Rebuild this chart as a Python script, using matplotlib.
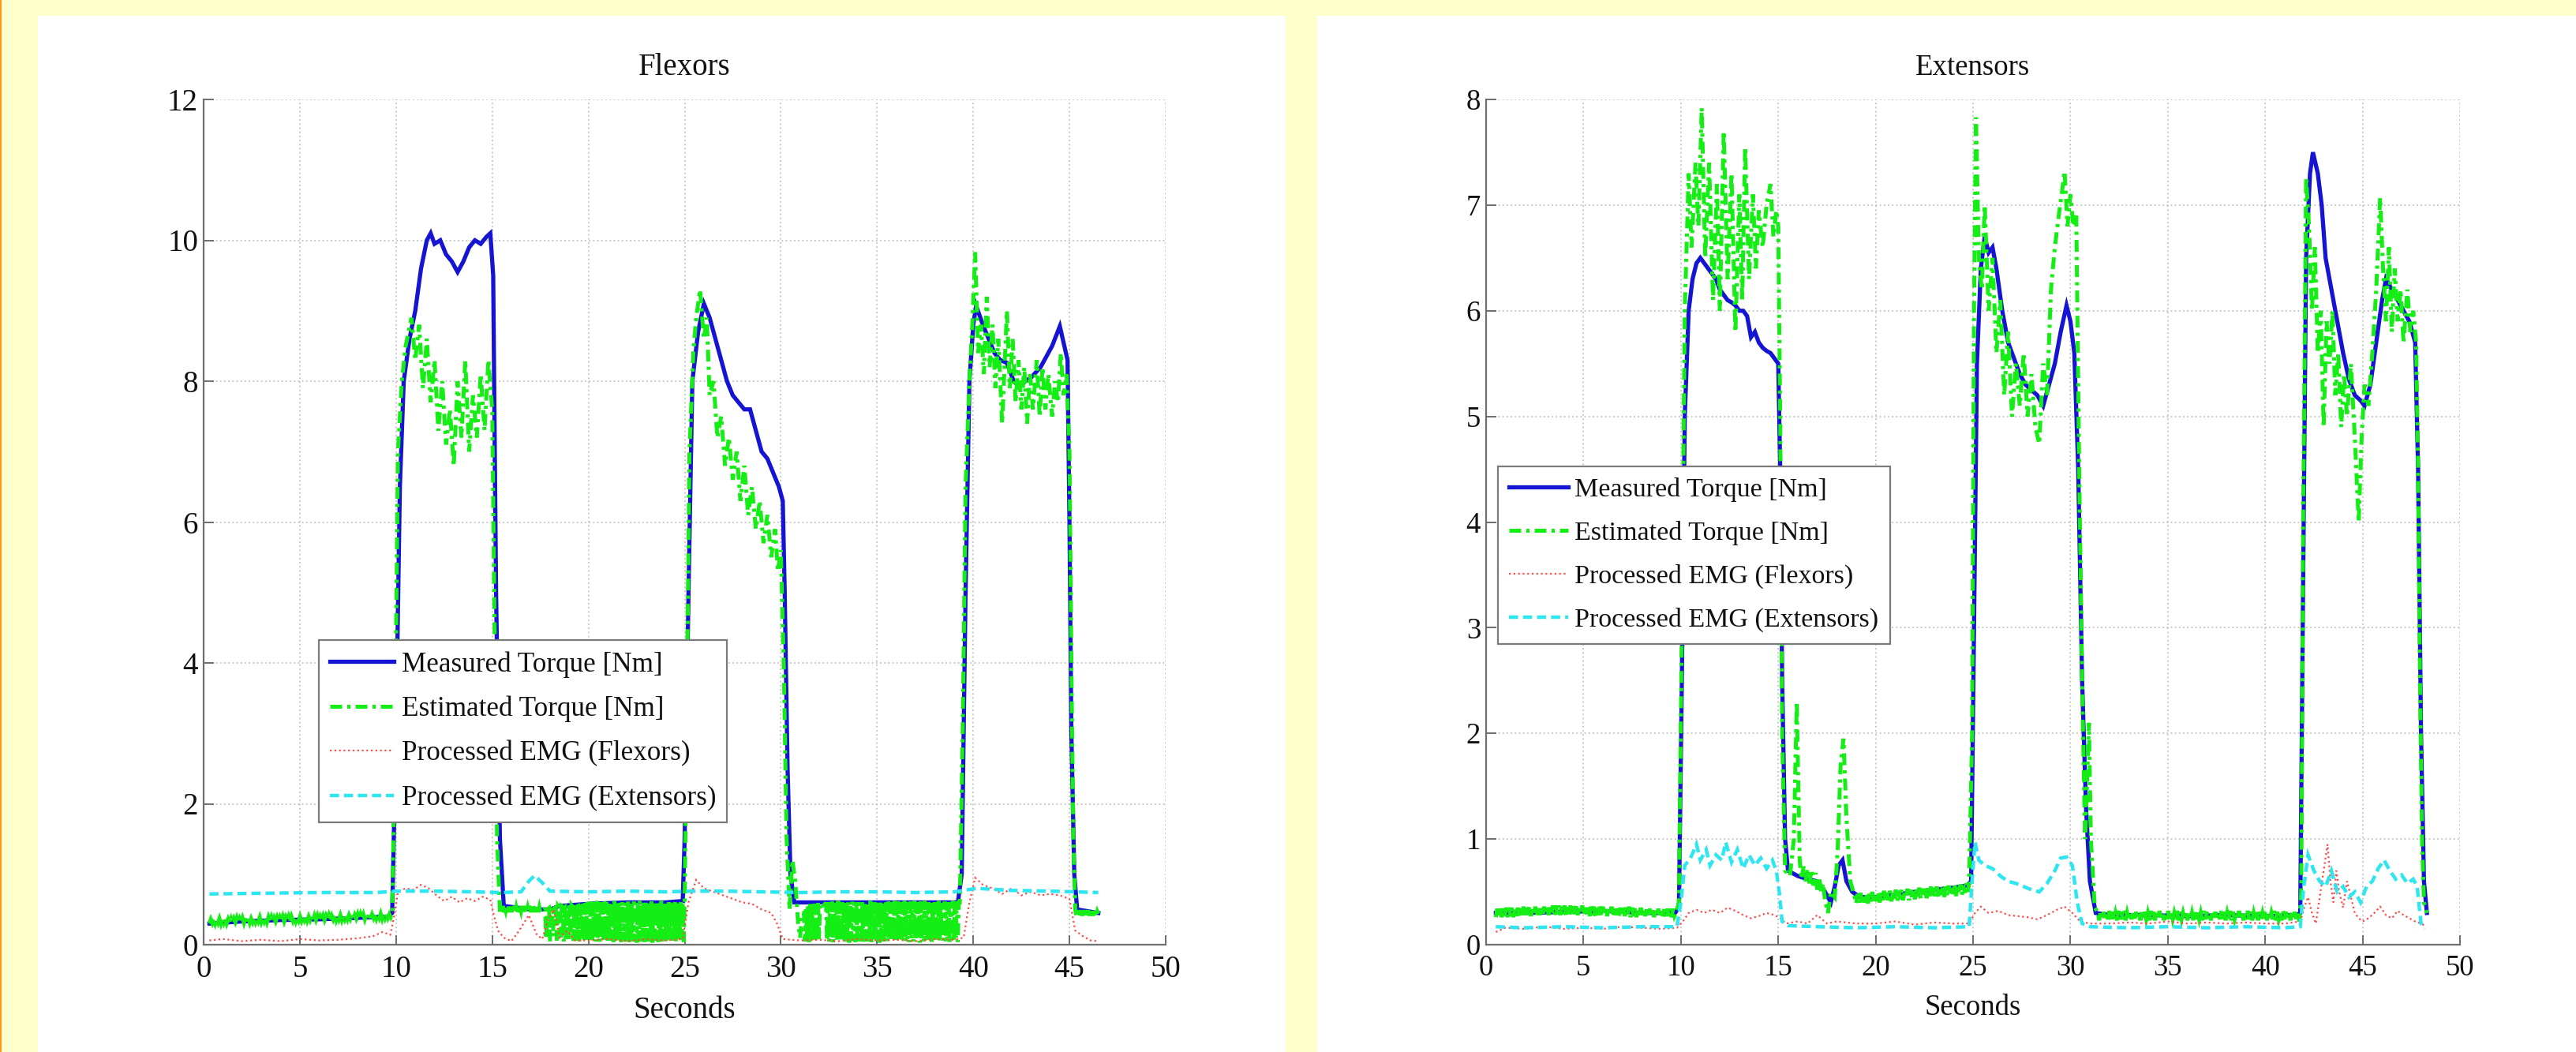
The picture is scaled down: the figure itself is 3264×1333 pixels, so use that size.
import numpy as np
import matplotlib
matplotlib.use("Agg")
import matplotlib.pyplot as plt
from matplotlib.patches import Rectangle

# ---------------------------------------------------------------- data
# Flexors panel -- (seconds, value) pairs
flex_measured = [
    (0.3, 0.30), (2, 0.33), (4, 0.35), (6, 0.36), (8, 0.38), (9.6, 0.40), (9.8, 0.45),
    (10.0, 3.0), (10.2, 6.5), (10.4, 8.0), (10.7, 8.6), (11.0, 9.0), (11.3, 9.6), (11.6, 10.0),
    (11.8, 10.1), (12.0, 9.95), (12.3, 10.0), (12.6, 9.8), (12.9, 9.7), (13.2, 9.55),
    (13.5, 9.7), (13.8, 9.9), (14.1, 10.0), (14.4, 9.95), (14.7, 10.05), (14.9, 10.1),
    (15.05, 9.5), (15.2, 5.0), (15.4, 1.5), (15.6, 0.55), (17, 0.5), (18, 0.5), (18.5, 0.55),
    (20, 0.58), (22, 0.6), (24, 0.6), (24.9, 0.62), (25.0, 1.5), (25.2, 5.0), (25.4, 8.0),
    (25.7, 8.7), (26.0, 9.1), (26.3, 8.9), (26.6, 8.6), (26.9, 8.3), (27.2, 8.0), (27.5, 7.8),
    (27.8, 7.7), (28.1, 7.6), (28.4, 7.6), (28.7, 7.3), (29.0, 7.0), (29.3, 6.9), (29.6, 6.7),
    (29.9, 6.5), (30.1, 6.3), (30.2, 5.0), (30.35, 2.5), (30.5, 1.0), (30.7, 0.6), (31, 0.6),
    (33, 0.6), (35, 0.6), (37, 0.6), (39.2, 0.6), (39.4, 1.0), (39.6, 5.0), (39.8, 8.0),
    (40.0, 8.8), (40.15, 9.07), (40.5, 8.8), (40.8, 8.6), (41.1, 8.4), (41.4, 8.3), (41.75, 8.26),
    (42.1, 8.0), (42.4, 7.92), (42.7, 8.0), (43.0, 8.05), (43.5, 8.2), (43.8, 8.35), (44.1, 8.5),
    (44.5, 8.78), (44.7, 8.54), (44.9, 8.3), (45.0, 6.0), (45.1, 3.0), (45.25, 1.0), (45.4, 0.5),
    (46.5, 0.45),
]

# estimated torque, resting jitter 0.3 s .. 9.8 s
flex_est_rest = [
    0.30, 0.36, 0.31, 0.37, 0.30, 0.36, 0.31, 0.37, 0.30, 0.37, 0.31, 0.37, 0.30, 0.36, 0.31, 0.37,
    0.31, 0.37, 0.32, 0.38, 0.31, 0.37, 0.32, 0.38, 0.31, 0.38, 0.32, 0.38, 0.31, 0.37, 0.32, 0.38,
    0.32, 0.38, 0.33, 0.39, 0.32, 0.38, 0.33, 0.39, 0.32, 0.39, 0.33, 0.39, 0.32, 0.38, 0.33, 0.39,
    0.33, 0.39, 0.34, 0.40, 0.33, 0.39, 0.34, 0.40, 0.33, 0.40, 0.34, 0.40, 0.33, 0.39, 0.34, 0.40,
    0.34, 0.40, 0.35, 0.41, 0.34, 0.40, 0.35, 0.41, 0.34, 0.41, 0.35, 0.41, 0.34, 0.40, 0.35, 0.41,
    0.35, 0.41, 0.36, 0.42, 0.35, 0.41, 0.36, 0.42, 0.35, 0.42, 0.36, 0.42, 0.35, 0.41, 0.36, 0.42,
    0.36, 0.42, 0.37, 0.43, 0.36, 0.42, 0.37, 0.43, 0.36, 0.43, 0.37, 0.43, 0.36, 0.42, 0.37, 0.43,
    0.37, 0.43, 0.38, 0.44, 0.37, 0.43, 0.38, 0.44, 0.37, 0.44, 0.38, 0.44, 0.38, 0.43, 0.39, 0.45,
]
flex_est_contraction1 = [
    (9.95, 3.0), (10.1, 7.0), (10.3, 8.0), (10.5, 8.5), (10.8, 8.9), (11.0, 8.3), (11.2, 8.8),
    (11.4, 7.9), (11.6, 8.6), (11.8, 7.7), (12.0, 8.3), (12.2, 7.3), (12.4, 8.0), (12.6, 7.1),
    (12.8, 7.6), (13.0, 6.8), (13.2, 8.0), (13.4, 7.2), (13.6, 8.3), (13.8, 7.0), (14.0, 7.8),
    (14.2, 7.2), (14.4, 8.1), (14.6, 7.3), (14.8, 8.3), (15.0, 7.6), (15.1, 5.0), (15.25, 1.5),
]
# plateau 15.4 s .. 17.55 s
flex_est_plateau = [
    0.46, 0.54, 0.47, 0.55, 0.46, 0.53, 0.48, 0.55, 0.46, 0.54, 0.47, 0.55, 0.46, 0.54, 0.48,
    0.55, 0.46, 0.53, 0.47, 0.55, 0.46, 0.54, 0.48, 0.55, 0.46, 0.54, 0.47, 0.55, 0.46, 0.53,
    0.48, 0.55, 0.46, 0.54, 0.47, 0.55, 0.46, 0.54, 0.48, 0.55, 0.46, 0.53, 0.47, 0.50,
]
# rapid switching 17.6 s .. 25.0 s
flex_est_burst1 = [
    0.50, 0.49, 0.50, 0.48, 0.08, 0.50, 0.51, 0.52, 0.05, 0.50, 0.49, 0.12, 0.55, 0.52,
    0.50, 0.06, 0.55, 0.53, 0.52, 0.10, 0.55, 0.54, 0.05, 0.56, 0.08, 0.55, 0.55, 0.08,
    0.56, 0.10, 0.56, 0.54, 0.05, 0.58, 0.06, 0.57, 0.10, 0.58, 0.04, 0.57, 0.58, 0.07,
    0.58, 0.05, 0.59, 0.06,
    0.60, 0.04, 0.58, 0.08, 0.61, 0.03, 0.59, 0.10, 0.60, 0.05,
    0.62, 0.07, 0.58, 0.04, 0.60, 0.12, 0.59, 0.05, 0.61, 0.08,
    0.60, 0.03, 0.58, 0.10, 0.61, 0.06, 0.59, 0.04, 0.62, 0.09,
    0.60, 0.05, 0.58, 0.11, 0.60, 0.04, 0.61, 0.07, 0.59, 0.05,
    0.60, 0.10, 0.62, 0.04, 0.58, 0.08, 0.60, 0.05, 0.61, 0.06,
    0.59, 0.03, 0.60, 0.09, 0.62, 0.05, 0.58, 0.12, 0.60, 0.04,
    0.61, 0.07, 0.59, 0.05, 0.60, 0.10, 0.62, 0.03, 0.58, 0.08,
    0.61, 0.06, 0.60, 0.04, 0.59, 0.11, 0.62, 0.05, 0.60, 0.07,
    0.58, 0.04, 0.61, 0.09, 0.60, 0.05, 0.62, 0.06, 0.59, 0.10,
    0.60, 0.03, 0.61, 0.08, 0.58, 0.05, 0.62, 0.07, 0.60, 0.04,
    0.60,
]
flex_est_contraction2 = [
    (25.1, 3.0), (25.25, 7.0), (25.45, 8.4), (25.6, 8.9), (25.8, 9.3), (26.0, 8.6), (26.15, 8.9),
    (26.3, 7.8), (26.5, 8.0), (26.7, 7.2), (26.9, 7.5), (27.1, 6.8), (27.3, 7.2), (27.5, 6.6),
    (27.7, 7.0), (27.9, 6.3), (28.1, 6.8), (28.3, 6.1), (28.5, 6.5), (28.7, 5.9), (28.9, 6.3),
    (29.1, 5.7), (29.3, 6.1), (29.5, 5.5), (29.7, 5.9), (29.85, 5.3), (30.0, 5.6), (30.15, 4.0),
    (30.3, 1.5), (30.45, 0.5), (30.6, 1.2), (30.75, 0.9), (30.9, 0.3), (31.0, 0.1), (31.1, 0.45),
]
# rapid switching 31.2 s .. 39.3 s
flex_est_burst2 = [
    0.45, 0.05, 0.50, 0.10, 0.56, 0.04, 0.58, 0.08, 0.57, 0.06, 0.58, 0.10, 0.57, 0.05,
    0.59, 0.08, 0.58, 0.57, 0.58, 0.56, 0.57, 0.58, 0.57, 0.06, 0.60,
    0.04, 0.58, 0.08, 0.61, 0.03, 0.59, 0.10, 0.60, 0.05, 0.62,
    0.07, 0.58, 0.04, 0.60, 0.12, 0.59, 0.05, 0.61, 0.08, 0.60,
    0.03, 0.58, 0.10, 0.61, 0.06, 0.59, 0.04, 0.62, 0.09, 0.60,
    0.05, 0.58, 0.11, 0.60, 0.04, 0.61, 0.07, 0.59, 0.05, 0.60,
    0.10, 0.62, 0.04, 0.58, 0.08, 0.60, 0.05, 0.61, 0.06, 0.59,
    0.03, 0.60, 0.09, 0.62, 0.05, 0.58, 0.12, 0.60, 0.04, 0.61,
    0.07, 0.59, 0.05, 0.60, 0.10, 0.62, 0.03, 0.58, 0.08, 0.61,
    0.06, 0.60, 0.04, 0.59, 0.11, 0.62, 0.05, 0.60, 0.07, 0.58,
    0.04, 0.61, 0.09, 0.60, 0.05, 0.62, 0.06, 0.59, 0.10, 0.60,
    0.03, 0.61, 0.08, 0.58, 0.05, 0.62, 0.07, 0.60, 0.04, 0.60,
    0.06, 0.59, 0.03, 0.61, 0.10, 0.60, 0.05, 0.58, 0.08, 0.62,
    0.04, 0.60, 0.11, 0.59, 0.06, 0.61, 0.05, 0.60, 0.09, 0.58,
    0.03, 0.60, 0.07, 0.62, 0.05, 0.59, 0.10, 0.61, 0.04, 0.60,
    0.60,
]
flex_est_contraction3 = [
    (39.45, 3.0), (39.6, 6.5), (39.8, 8.0), (39.95, 8.8), (40.1, 9.83), (40.25, 8.4), (40.4, 8.8),
    (40.55, 8.1), (40.7, 9.2), (40.85, 8.2), (41.0, 8.8), (41.15, 7.9), (41.3, 8.6), (41.5, 7.4),
    (41.75, 9.0), (41.9, 7.9), (42.05, 8.6), (42.2, 7.7), (42.35, 8.3), (42.5, 7.6), (42.65, 8.2),
    (42.8, 7.4), (42.95, 8.1), (43.1, 7.6), (43.3, 8.3), (43.45, 7.5), (43.6, 8.2), (43.75, 7.6),
    (43.9, 8.1), (44.1, 7.5), (44.25, 8.0), (44.4, 7.7), (44.55, 8.4), (44.7, 7.8), (44.85, 8.1),
    (45.0, 7.0), (45.1, 4.0), (45.2, 1.5),
]
# tail 45.3 s .. 46.5 s
flex_est_tail = [
    0.50, 0.42, 0.49, 0.41, 0.48, 0.42, 0.49, 0.41, 0.48, 0.42, 0.49, 0.41, 0.48,
    0.42, 0.49, 0.41, 0.48, 0.42, 0.49, 0.41, 0.48, 0.42, 0.49, 0.41, 0.47, 0.44,
]

flex_emg_flexors = [
    (0.3, 0.06), (1, 0.08), (2, 0.05), (3, 0.07), (4, 0.05), (5, 0.08), (6, 0.06), (7, 0.07),
    (8, 0.09), (8.8, 0.12), (9.3, 0.18), (9.7, 0.14), (9.9, 0.4), (10.1, 0.75), (10.5, 0.8),
    (10.9, 0.78), (11.3, 0.85), (11.7, 0.8), (12.1, 0.7), (12.5, 0.62), (12.9, 0.68),
    (13.3, 0.6), (13.7, 0.66), (14.1, 0.62), (14.5, 0.68), (14.9, 0.64), (15.1, 0.4),
    (15.3, 0.2), (15.6, 0.1), (16.0, 0.05), (16.4, 0.2), (16.9, 0.42), (17.3, 0.15),
    (17.6, 0.08), (17.9, 0.35), (18.2, 0.5), (18.5, 0.1), (18.9, 0.2), (19.3, 0.06),
    (20, 0.06), (21, 0.08), (22, 0.05), (23, 0.08), (24, 0.06), (24.9, 0.08), (25.2, 0.6),
    (25.6, 0.92), (26.0, 0.8), (26.5, 0.75), (27.0, 0.7), (27.5, 0.65), (28.0, 0.6),
    (28.5, 0.58), (29.0, 0.5), (29.5, 0.45), (29.8, 0.3), (30.1, 0.08), (31, 0.06),
    (32, 0.07), (33, 0.05), (34, 0.08), (35, 0.06), (36, 0.07), (37, 0.05), (38, 0.08),
    (39, 0.07), (39.5, 0.1), (39.8, 0.6), (40.1, 0.95), (40.5, 0.85), (41.0, 0.8),
    (41.5, 0.72), (42.0, 0.8), (42.5, 0.7), (43.0, 0.75), (43.5, 0.7), (44.0, 0.72),
    (44.5, 0.7), (45.0, 0.65), (45.3, 0.2), (45.7, 0.12), (46.1, 0.06), (46.5, 0.05),
]

flex_emg_extensors = [
    (0.3, 0.72), (3, 0.73), (6, 0.74), (9, 0.74), (10, 0.76), (12, 0.76), (14, 0.75),
    (15.5, 0.74), (16.5, 0.75), (16.9, 0.9), (17.2, 0.98), (17.6, 0.88), (18.0, 0.76),
    (20, 0.75), (22, 0.76), (24, 0.75), (25.5, 0.76), (27, 0.76), (29, 0.75), (31, 0.74),
    (33, 0.75), (35, 0.75), (37, 0.74), (39, 0.75), (40.2, 0.8), (42, 0.77), (44, 0.76),
    (46.5, 0.74),
]

# Extensors panel
ext_measured = [
    (0.5, 0.30), (2, 0.30), (4, 0.31), (6, 0.32), (8, 0.30), (9.7, 0.30), (9.9, 0.35),
    (10.05, 2.5), (10.2, 5.0), (10.4, 6.0), (10.6, 6.3), (10.8, 6.45), (11.0, 6.5), (11.2, 6.45),
    (11.4, 6.4), (11.6, 6.35), (11.8, 6.3), (12.0, 6.2), (12.2, 6.15), (12.4, 6.1), (12.6, 6.08),
    (12.8, 6.05), (13.0, 6.0), (13.2, 6.0), (13.4, 5.95), (13.6, 5.75), (13.8, 5.8), (14.0, 5.7),
    (14.2, 5.65), (14.4, 5.62), (14.6, 5.6), (14.8, 5.55), (15.0, 5.5), (15.1, 4.5), (15.2, 2.5),
    (15.35, 1.0), (15.5, 0.7), (16.0, 0.65), (16.5, 0.62), (17.0, 0.6), (17.4, 0.5), (17.7, 0.4),
    (17.9, 0.55), (18.1, 0.75), (18.3, 0.8), (18.5, 0.6), (18.8, 0.5), (19.2, 0.45), (20, 0.45),
    (21, 0.47), (22, 0.5), (23, 0.52), (24, 0.54), (24.7, 0.56), (24.9, 0.6), (25.05, 3.0),
    (25.2, 5.5), (25.4, 6.4), (25.6, 6.7), (25.8, 6.55), (26.0, 6.6), (26.2, 6.4), (26.5, 6.0),
    (26.8, 5.7), (27.1, 5.55), (27.4, 5.4), (27.7, 5.3), (28.0, 5.25), (28.3, 5.2), (28.6, 5.1),
    (28.9, 5.3), (29.2, 5.5), (29.5, 5.8), (29.8, 6.05), (30.0, 5.9), (30.2, 5.6), (30.4, 4.5),
    (30.6, 2.5), (30.8, 1.3), (31.0, 0.6), (31.3, 0.3), (32, 0.28), (34, 0.28), (36, 0.27),
    (38, 0.28), (40, 0.27), (41.6, 0.28), (41.8, 0.3), (41.95, 3.5), (42.1, 6.5), (42.3, 7.3),
    (42.45, 7.5), (42.7, 7.3), (42.9, 7.0), (43.1, 6.5), (43.4, 6.2), (43.7, 5.9), (44.0, 5.6),
    (44.3, 5.35), (44.6, 5.2), (44.9, 5.15), (45.1, 5.1), (45.4, 5.3), (45.7, 5.7), (46.0, 6.1),
    (46.2, 6.3), (46.5, 6.2), (46.8, 6.1), (47.1, 6.0), (47.4, 5.9), (47.7, 5.7), (47.85, 4.5),
    (48.0, 2.0), (48.15, 0.6), (48.3, 0.3),
]

# estimated torque, resting jitter 0.5 s .. 9.75 s
ext_est_rest1 = [
    0.26, 0.34, 0.27, 0.35, 0.26, 0.34, 0.27, 0.35, 0.26, 0.35, 0.27, 0.35, 0.26, 0.34, 0.27, 0.35,
    0.27, 0.35, 0.28, 0.36, 0.27, 0.35, 0.28, 0.36, 0.27, 0.36, 0.28, 0.36, 0.27, 0.35, 0.28, 0.36,
    0.28, 0.36, 0.29, 0.37, 0.28, 0.36, 0.29, 0.37, 0.28, 0.37, 0.29, 0.37, 0.28, 0.36, 0.29, 0.37,
    0.28, 0.36, 0.29, 0.37, 0.28, 0.36, 0.29, 0.37, 0.28, 0.37, 0.29, 0.37, 0.28, 0.36, 0.29, 0.37,
    0.27, 0.36, 0.28, 0.36, 0.27, 0.35, 0.28, 0.36, 0.27, 0.36, 0.28, 0.36, 0.27, 0.35, 0.28, 0.36,
    0.27, 0.35, 0.28, 0.36, 0.27, 0.35, 0.28, 0.36, 0.27, 0.35, 0.28, 0.36, 0.26, 0.35, 0.27, 0.35,
    0.26, 0.34, 0.27, 0.35, 0.26, 0.34, 0.27, 0.35, 0.26, 0.34, 0.27, 0.35, 0.26, 0.34, 0.27, 0.34,
    0.26, 0.34, 0.27, 0.34, 0.26, 0.34, 0.27, 0.34, 0.26, 0.34, 0.27, 0.30,
]
ext_est_contraction1 = [
    (9.9, 0.4), (10.05, 3.0), (10.2, 6.0), (10.4, 7.3), (10.55, 6.6), (10.75, 7.4), (10.9, 6.8),
    (11.07, 7.92), (11.25, 6.5), (11.45, 7.4), (11.65, 6.1), (11.85, 7.2), (12.0, 6.0),
    (12.2, 7.7), (12.4, 6.3), (12.6, 7.3), (12.8, 5.8), (13.0, 7.1), (13.15, 6.1), (13.3, 7.55),
    (13.5, 6.3), (13.7, 7.1), (13.85, 6.4), (14.0, 6.95), (14.2, 6.6), (14.4, 7.0), (14.6, 7.2),
    (14.75, 6.7), (14.9, 6.95), (15.0, 6.8), (15.1, 5.0), (15.2, 2.0), (15.35, 0.7), (15.6, 0.65),
    (15.8, 1.0), (15.95, 2.3), (16.1, 0.8), (16.2, 0.62), (16.3, 0.74), (16.4, 0.6), (16.5, 0.72),
    (16.6, 0.58), (16.7, 0.7), (16.8, 0.56), (16.9, 0.68), (17.0, 0.52), (17.1, 0.64),
    (17.2, 0.5), (17.3, 0.58), (17.4, 0.42), (17.55, 0.3), (17.7, 0.5), (17.9, 0.45),
    (18.05, 0.9), (18.2, 1.7), (18.35, 1.95), (18.5, 1.2), (18.7, 0.6), (18.85, 0.5),
]
# slow drift 19.0 s .. 24.8 s
ext_est_drift = [
    0.39, 0.48, 0.40, 0.49, 0.38, 0.47, 0.40, 0.49, 0.39, 0.48, 0.41, 0.50, 0.39, 0.48,
    0.41, 0.50, 0.40, 0.49, 0.42, 0.51, 0.40, 0.50, 0.42, 0.51, 0.41, 0.50, 0.43, 0.52,
    0.41, 0.51, 0.43, 0.52, 0.42, 0.51, 0.44, 0.53, 0.42, 0.52, 0.44, 0.53, 0.43, 0.52,
    0.45, 0.54, 0.43, 0.53, 0.45, 0.54, 0.44, 0.53, 0.46, 0.55, 0.44, 0.54, 0.46, 0.55,
    0.45, 0.54, 0.47, 0.56, 0.45, 0.55, 0.47, 0.56, 0.46, 0.55, 0.48, 0.57, 0.46, 0.56,
    0.48, 0.57, 0.47, 0.56, 0.49, 0.58, 0.50, 0.58,
]
ext_est_contraction2 = [
    (24.95, 2.0), (25.05, 6.0), (25.15, 7.83), (25.3, 6.5), (25.45, 6.2), (25.6, 7.0), (25.8, 6.0),
    (26.0, 6.5), (26.2, 5.6), (26.4, 6.1), (26.6, 5.2), (26.8, 5.8), (27.0, 5.0), (27.2, 5.5),
    (27.4, 5.1), (27.6, 5.6), (27.8, 5.0), (28.0, 5.4), (28.2, 4.9), (28.4, 4.74), (28.6, 5.5),
    (28.8, 5.2), (29.0, 6.2), (29.2, 6.6), (29.4, 6.9), (29.55, 7.1), (29.7, 7.32), (29.85, 6.8),
    (30.0, 7.1), (30.15, 6.8), (30.3, 6.9), (30.45, 4.5), (30.6, 2.5), (30.75, 1.0), (30.85, 1.5),
    (30.95, 2.1), (31.05, 1.0), (31.25, 0.35),
]
# resting jitter 31.4 s .. 41.75 s
ext_est_rest2 = [
    0.31, 0.23, 0.32, 0.24, 0.31, 0.23, 0.30, 0.24, 0.32, 0.23, 0.31, 0.24, 0.30, 0.23, 0.32, 0.24,
    0.31, 0.24, 0.32, 0.23, 0.30, 0.24, 0.31, 0.24, 0.32, 0.23, 0.31, 0.24, 0.30, 0.23, 0.32, 0.24,
    0.31, 0.24, 0.30, 0.23, 0.32, 0.24, 0.31, 0.23, 0.30, 0.24, 0.32, 0.24, 0.31, 0.23, 0.30, 0.24,
    0.32, 0.23, 0.31, 0.24, 0.30, 0.24, 0.32, 0.23, 0.31, 0.24, 0.30, 0.24, 0.32, 0.23, 0.31, 0.24,
    0.30, 0.23, 0.32, 0.24, 0.31, 0.24, 0.30, 0.23, 0.32, 0.24, 0.31, 0.24, 0.30, 0.23, 0.32, 0.24,
    0.31, 0.23, 0.30, 0.24, 0.32, 0.24, 0.31, 0.23, 0.30, 0.24, 0.32, 0.23, 0.31, 0.24, 0.30, 0.24,
    0.32, 0.24, 0.31, 0.23, 0.30, 0.24, 0.32, 0.24, 0.31, 0.23, 0.30, 0.24, 0.32, 0.23, 0.31, 0.24,
    0.30, 0.24, 0.32, 0.23, 0.31, 0.24, 0.30, 0.24, 0.32, 0.23, 0.31, 0.24, 0.30, 0.23, 0.32, 0.24,
    0.31, 0.24, 0.30, 0.23, 0.32, 0.24, 0.31, 0.23, 0.30, 0.22,
]
ext_est_contraction3 = [
    (41.85, 0.5), (41.95, 4.0), (42.1, 7.26), (42.25, 6.8), (42.4, 6.0), (42.55, 6.6), (42.7, 5.6),
    (42.85, 6.0), (43.0, 4.9), (43.15, 5.9), (43.3, 5.5), (43.45, 6.0), (43.6, 5.2), (43.75, 5.6),
    (43.9, 4.9), (44.05, 5.4), (44.2, 5.0), (44.4, 5.5), (44.6, 4.8), (44.8, 4.0), (44.95, 4.8),
    (45.1, 5.3), (45.3, 5.1), (45.5, 5.6), (45.7, 6.2), (45.9, 7.07), (46.05, 6.4), (46.2, 5.9),
    (46.35, 6.6), (46.5, 5.8), (46.65, 6.4), (46.8, 5.9), (46.95, 6.2), (47.1, 5.7), (47.3, 6.2),
    (47.45, 5.8), (47.6, 6.0), (47.75, 5.7), (47.85, 4.5), (47.95, 2.5), (48.05, 1.0),
    (48.15, 0.4), (48.3, 0.3),
]

ext_emg_flexors = [
    (0.5, 0.12), (1, 0.16), (2, 0.15), (3, 0.17), (4, 0.15), (5, 0.16), (6, 0.15), (7, 0.17),
    (8, 0.16), (9, 0.15), (9.8, 0.16), (10.1, 0.22), (10.4, 0.30), (10.8, 0.33), (11.2, 0.30),
    (11.6, 0.33), (12.0, 0.30), (12.4, 0.35), (12.8, 0.32), (13.2, 0.28), (13.6, 0.25),
    (14.0, 0.27), (14.4, 0.30), (14.8, 0.28), (15.1, 0.25), (15.4, 0.20), (16, 0.22),
    (16.5, 0.20), (17, 0.28), (17.5, 0.20), (18, 0.22), (19, 0.20), (20, 0.20), (21, 0.22),
    (22, 0.19), (23, 0.21), (24, 0.20), (24.8, 0.20), (25.1, 0.30), (25.4, 0.36), (25.8, 0.30),
    (26.3, 0.32), (26.8, 0.28), (27.3, 0.27), (27.8, 0.26), (28.3, 0.24), (28.8, 0.28),
    (29.3, 0.33), (29.7, 0.36), (30.1, 0.30), (30.5, 0.22), (31, 0.20), (32, 0.20), (33, 0.21),
    (34, 0.20), (35, 0.22), (36, 0.20), (37, 0.21), (38, 0.20), (39, 0.21), (40, 0.20),
    (41, 0.20), (41.8, 0.22), (42.0, 0.35), (42.2, 0.45), (42.4, 0.30), (42.6, 0.20),
    (42.8, 0.45), (43.0, 0.70), (43.2, 0.95), (43.35, 0.60), (43.5, 0.40), (43.65, 0.70),
    (43.8, 0.50), (44.0, 0.35), (44.2, 0.60), (44.4, 0.45), (44.6, 0.30), (44.8, 0.25),
    (45.0, 0.22), (45.3, 0.25), (45.6, 0.30), (45.9, 0.36), (46.2, 0.28), (46.5, 0.25),
    (46.8, 0.32), (47.1, 0.28), (47.4, 0.25), (47.7, 0.22), (48.0, 0.20), (48.2, 0.18),
]

ext_emg_extensors = [
    (0.5, 0.17), (2, 0.16), (4, 0.17), (6, 0.16), (8, 0.17), (9.8, 0.17), (10.0, 0.40),
    (10.2, 0.75), (10.5, 0.82), (10.8, 0.95), (11.0, 0.80), (11.3, 0.90), (11.5, 0.75),
    (11.8, 0.85), (12.1, 0.80), (12.3, 0.97), (12.6, 0.78), (12.9, 0.90), (13.2, 0.72),
    (13.5, 0.85), (13.8, 0.75), (14.1, 0.82), (14.4, 0.72), (14.7, 0.80), (14.9, 0.70),
    (15.05, 0.50), (15.2, 0.22), (15.5, 0.18), (17, 0.17), (19, 0.16), (21, 0.17), (23, 0.16),
    (24.8, 0.17), (24.95, 0.60), (25.1, 0.97), (25.3, 0.80), (25.6, 0.75), (26.0, 0.72),
    (26.4, 0.65), (26.8, 0.60), (27.2, 0.58), (27.6, 0.55), (28.0, 0.52), (28.4, 0.50),
    (28.8, 0.58), (29.2, 0.70), (29.5, 0.82), (29.8, 0.83), (30.1, 0.75), (30.35, 0.40),
    (30.6, 0.20), (31, 0.17), (33, 0.16), (35, 0.17), (37, 0.16), (39, 0.17), (41, 0.16),
    (41.8, 0.17), (41.95, 0.50), (42.2, 0.85), (42.5, 0.70), (42.8, 0.60), (43.1, 0.55),
    (43.4, 0.70), (43.7, 0.50), (44.0, 0.55), (44.3, 0.45), (44.6, 0.50), (44.9, 0.40),
    (45.2, 0.55), (45.5, 0.60), (45.8, 0.72), (46.1, 0.80), (46.4, 0.70), (46.7, 0.62),
    (47.0, 0.66), (47.3, 0.58), (47.6, 0.62), (47.8, 0.55), (48.0, 0.20), (48.2, 0.15),
]

legend_labels = ["Measured Torque [Nm]", "Estimated Torque [Nm]",
                 "Processed EMG (Flexors)", "Processed EMG (Extensors)"]
x_ticks = [0, 5, 10, 15, 20, 25, 30, 35, 40, 45, 50]
flex_y_ticks = [0, 2, 4, 6, 8, 10, 12]
ext_y_ticks = [0, 1, 2, 3, 4, 5, 6, 7, 8]


def unzip(pairs):
    a = np.array(pairs, dtype=float)
    return a[:, 0], a[:, 1]


def even(values, t0, t1):
    """Samples taken at an even rate between t0 and t1."""
    return np.linspace(t0, t1, len(values)), np.asarray(values, dtype=float)


def join(*pieces):
    return (np.concatenate([p[0] for p in pieces]),
            np.concatenate([p[1] for p in pieces]))


flex_estimated = join(even(flex_est_rest, 0.3, 9.8), unzip(flex_est_contraction1),
                      even(flex_est_plateau, 15.4, 17.55), even(flex_est_burst1, 17.6, 25.0),
                      unzip(flex_est_contraction2), even(flex_est_burst2, 31.2, 39.3),
                      unzip(flex_est_contraction3), even(flex_est_tail, 45.3, 46.5))
ext_estimated = join(even(ext_est_rest1, 0.5, 9.75), unzip(ext_est_contraction1),
                     even(ext_est_drift, 19.0, 24.8), unzip(ext_est_contraction2),
                     even(ext_est_rest2, 31.4, 41.75), unzip(ext_est_contraction3))

# ---------------------------------------------------------------- style
W, H = 3264, 1333
DPI = 100
SERIF = ["Liberation Serif", "DejaVu Serif"]
plt.rcParams["font.family"] = SERIF

C_BLUE = "#1414d2"
C_GREEN = "#14ee14"
C_RED = "#ff4a4a"
C_CYAN = "#2ee6f0"

styles = [
    dict(color=C_BLUE, lw=3.8, ls="-"),
    dict(color=C_GREEN, lw=3.6, ls=(0, (3.0, 1.3, 0.8, 1.3))),
    dict(color=C_RED, lw=1.6, ls=(0, (1.0, 1.6))),
    dict(color=C_CYAN, lw=3.2, ls=(0, (2.6, 1.4))),
]

fig = plt.figure(figsize=(W / DPI, H / DPI), dpi=DPI, facecolor="#ffffcc")


def px_rect(x0, y0, x1, y1, color):
    """Rectangle given in pixel coordinates measured from the top-left corner."""
    fig.add_artist(Rectangle((x0 / W, 1 - y1 / H), (x1 - x0) / W, (y1 - y0) / H,
                             transform=fig.transFigure, facecolor=color,
                             edgecolor="none", zorder=0))


px_rect(48, 20, 1629, H, "white")
px_rect(1669, 20, W, H, "white")
px_rect(0, 0, 2, H, "#ff9a1a")


def make_axes(x0, x1, y0, y1):
    return fig.add_axes([x0 / W, 1 - y1 / H, (x1 - x0) / W, (y1 - y0) / H])


def decorate(ax, title, ymax, yticks, fs):
    ax.set_xlim(0, 50)
    ax.set_ylim(0, ymax)
    ax.set_xticks(x_ticks)
    ax.set_yticks(yticks)
    ax.set_xticklabels([str(v) for v in x_ticks])
    ax.set_yticklabels([str(v) for v in yticks])
    for s in ("top", "right"):
        ax.spines[s].set_visible(False)
    for s in ("left", "bottom"):
        ax.spines[s].set_color("#6e6e6e")
        ax.spines[s].set_linewidth(1.6)
    ax.tick_params(direction="in", length=9, width=1.4, color="#6e6e6e",
                   labelsize=fs, labelcolor="#111111")
    ax.tick_params(axis="x", pad=9)
    ax.tick_params(axis="y", pad=5)
    ax.grid(True, ls=(0, (1.2, 2.2)), lw=1.1, color="#b8b8b8")
    ax.set_axisbelow(True)
    ax.set_title(title, fontsize=fs, color="#111111", pad=22)
    ax.set_xlabel("Seconds", fontsize=fs, color="#111111", labelpad=11)


def draw(ax, series, anchor, fs, spacing, bpad, hlen, hpad):
    handles = []
    for (t, v), st in zip(series, styles):
        (h,) = ax.plot(t, v, solid_joinstyle="miter", dash_joinstyle="miter", **st)
        handles.append(h)
    leg = ax.legend(handles, legend_labels, loc="upper left",
                    bbox_to_anchor=anchor, borderaxespad=0, fontsize=fs,
                    frameon=True, fancybox=False, framealpha=1, edgecolor="#7a7a7a",
                    handlelength=hlen, handletextpad=hpad, labelspacing=spacing,
                    borderpad=bpad)
    leg.get_frame().set_linewidth(1.6)
    for txt in leg.get_texts():
        txt.set_color("#111111")


# Flexors
ax1 = make_axes(258, 1477, 126, 1197)
draw(ax1, [unzip(flex_measured), flex_estimated,
           unzip(flex_emg_flexors), unzip(flex_emg_extensors)],
     ((404 - 258) / 1219, (1197 - 811) / 1071), 25.3, 0.66, 0.4, 2.3, 0.28)
decorate(ax1, "Flexors", 12, flex_y_ticks, 28)

# Extensors
ax2 = make_axes(1883, 3117, 126, 1197)
draw(ax2, [unzip(ext_measured), ext_estimated,
           unzip(ext_emg_flexors), unzip(ext_emg_extensors)],
     ((1898 - 1883) / 1234, (1197 - 591) / 1071), 24.5, 0.7, 0.42, 2.2, 0.24)
decorate(ax2, "Extensors", 8, ext_y_ticks, 26.5)

fig.savefig("out.png", dpi=DPI, facecolor=fig.get_facecolor())
